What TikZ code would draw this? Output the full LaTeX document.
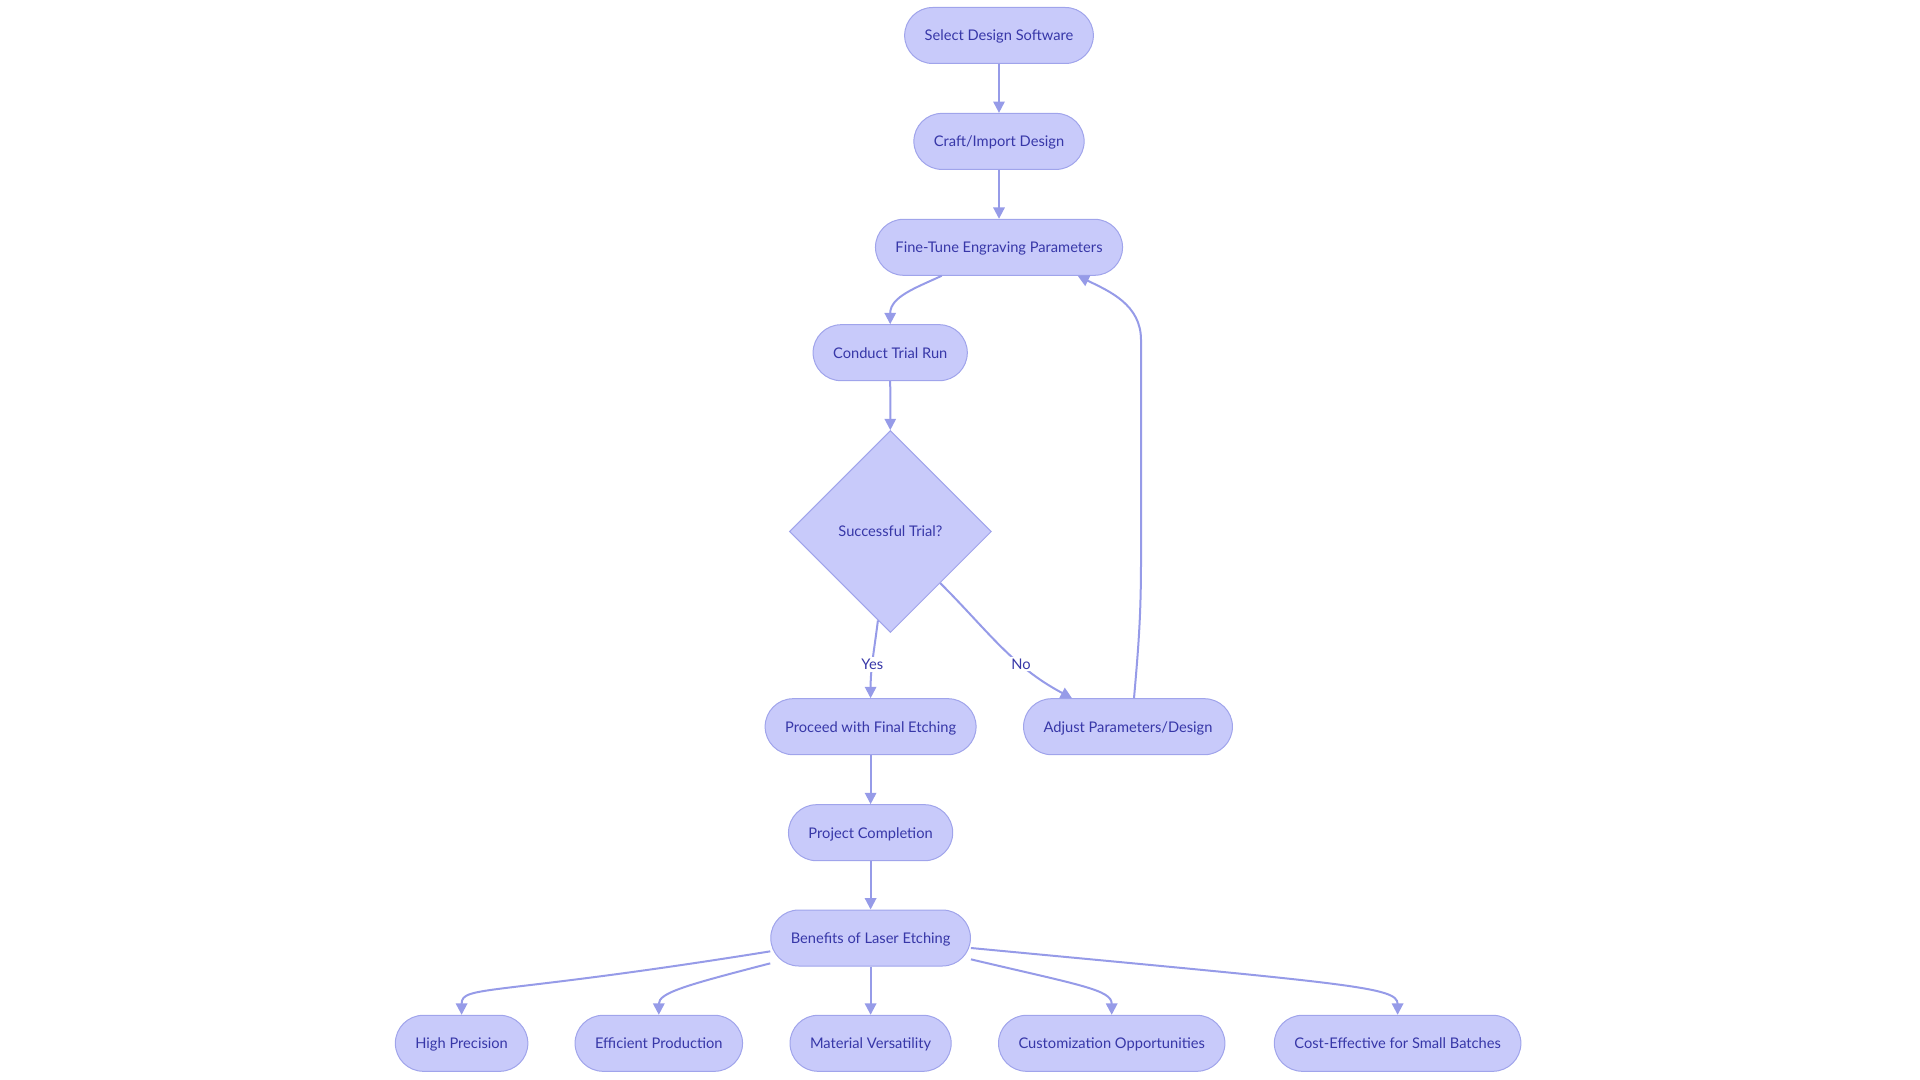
\documentclass[tikz,border=0pt]{standalone}
\usepackage{fontspec}
\setmainfont{Lato}
\usetikzlibrary{arrows.meta,shapes.geometric}
\definecolor{boxfill}{RGB}{200,202,250}
\definecolor{boxline}{RGB}{160,164,235}
\definecolor{linkline}{RGB}{150,155,232}
\definecolor{boxtext}{RGB}{55,55,168}
\begin{document}
\begin{tikzpicture}[x=0.75pt,y=0.75pt,
	box/.style={draw=boxline,fill=boxfill,line width=0.75pt,rounded corners=21pt,minimum height=42pt,inner xsep=15pt,text height=8pt,text depth=0pt,text=boxtext,font=\fontsize{11}{13}\selectfont},
	choice/.style={diamond,draw=boxline,fill=boxfill,line width=0.75pt,minimum width=151.5pt,minimum height=151.5pt,inner sep=0pt,text=boxtext,font=\fontsize{11}{13}\selectfont},
	link/.style={draw=linkline,line width=1.5pt,-{Triangle[length=8.5pt,width=8.5pt]}},
	lbl/.style={fill=white,text=boxtext,inner sep=1.5pt,font=\fontsize{11}{13}\selectfont}]
	\useasboundingbox (0,0) rectangle (1920,-1080);
	\node [box] (sel) at (999,-35.5) {Select Design Software};
	\node [box] (crf) at (999,-141.4) {Craft/Import Design};
	\node [box] (fin) at (999,-247.3) {Fine-Tune Engraving Parameters};
	\node [box] (trl) at (890.2,-352.7) {Conduct Trial Run};
	\node [choice] (dia) at (890.4,-531.5) {Successful Trial?};
	\node [box] (prc) at (870.6,-726.7) {Proceed with Final Etching};
	\node [box] (adj) at (1128,-726.7) {Adjust Parameters/Design};
	\node [box] (prj) at (870.6,-832.7) {Project Completion};
	\node [box] (ben) at (870.6,-938) {Benefits of Laser Etching};
	\node [box] (hp) at (461.6,-1043.3) {High Precision};
	\node [box] (ep) at (658.8,-1043.3) {Efficient Production};
	\node [box] (mv) at (870.6,-1043.3) {Material Versatility};
	\node [box] (co) at (1111.7,-1043.3) {Customization Opportunities};
	\node [box] (ce) at (1397.6,-1043.3) {Cost-Effective for Small Batches};
	\coordinate (bk1) at (1141,-560);
	\coordinate (bk2) at (1141,-340);
	\draw [link] (sel) -- (crf);
	\draw [link] (crf) -- (fin);
	\draw [link] ([xshift=-43pt]fin.south) to[out=205,in=90] (trl.north);
	\draw [link] (trl) -- (dia);
	\draw [link] (dia.262) to[out=263,in=90] node[lbl,pos=0.57] {Yes} (prc.north);
	\draw [link] (dia.314) to[out=-45,in=152] node[lbl,pos=0.66] {No} ([xshift=-42pt]adj.north);
	\draw [link] ([xshift=4.5pt]adj.north) to[out=85,in=-90] (bk1) -- (bk2) to[out=90,in=-26] ([xshift=59pt]fin.south);
	\draw [link] (prc) -- (prj);
	\draw [link] (prj) -- (ben);
	\draw [link] ([yshift=-10pt]ben.west) .. controls +(-280,-45) and +(0,30) .. (hp.north);
	\draw [link] ([yshift=-19pt]ben.west) .. controls +(-85,-22) and +(0,22) .. (ep.north);
	\draw [link] (ben) -- (mv);
	\draw [link] ([yshift=-16pt]ben.east) .. controls +(110,-26) and +(0,25) .. (co.north);
	\draw [link] ([yshift=-7.5pt]ben.east) .. controls +(380,-36) and +(0,28) .. (ce.north);
\end{tikzpicture}
\end{document}
